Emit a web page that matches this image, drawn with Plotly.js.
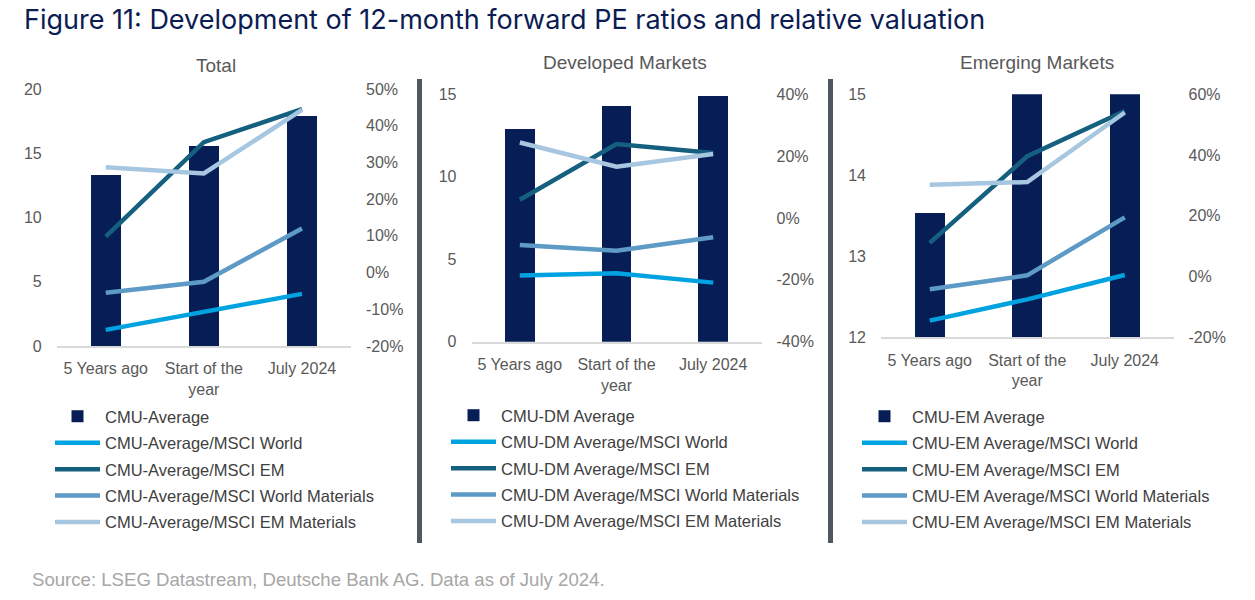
<!DOCTYPE html>
<html>
<head>
<meta charset="utf-8">
<script src="https://cdn.plot.ly/plotly-3.0.1.min.js"></script>
<style>html,body{margin:0;padding:0;background:#fff;}#chart{width:1255px;height:600px;}</style>
</head>
<body>
<div id="chart"></div>
<script>
// ---- data ----
const categories = ['5 Years ago', 'Start of the<br>year', 'July 2024'];

const totalNames = ['CMU-Average', 'CMU-Average/MSCI World', 'CMU-Average/MSCI EM', 'CMU-Average/MSCI World Materials', 'CMU-Average/MSCI EM Materials'];
const totalAvg = [13.3, 15.6, 17.9];
const totalWorld = [-0.156, -0.107, -0.058];
const totalEM = [0.098, 0.355, 0.445];
const totalWorldMat = [-0.055, -0.025, 0.12];
const totalEMMat = [0.287, 0.27, 0.443];

const dmNames = ['CMU-DM Average', 'CMU-DM Average/MSCI World', 'CMU-DM Average/MSCI EM', 'CMU-DM Average/MSCI World Materials', 'CMU-DM Average/MSCI EM Materials'];
const dmAvg = [12.9, 14.3, 14.9];
const dmWorld = [-0.186, -0.179, -0.209];
const dmEM = [0.059, 0.239, 0.21];
const dmWorldMat = [-0.087, -0.106, -0.062];
const dmEMMat = [0.244, 0.166, 0.207];

const emNames = ['CMU-EM Average', 'CMU-EM Average/MSCI World', 'CMU-EM Average/MSCI EM', 'CMU-EM Average/MSCI World Materials', 'CMU-EM Average/MSCI EM Materials'];
const emAvg = [13.54, 15.2, 15.4];
const emWorld = [-0.145, -0.075, 0.005];
const emEM = [0.111, 0.396, 0.545];
const emWorldMat = [-0.042, 0.004, 0.195];
const emEMMat = [0.302, 0.311, 0.54];

const panelTitles = ['Total', 'Developed Markets', 'Emerging Markets'];

const totalRightTicks = [-0.2, -0.1, 0, 0.1, 0.2, 0.3, 0.4, 0.5];
const totalRightLabels = ['-20%', '-10%', '0%', '10%', '20%', '30%', '40%', '50%'];
const dmRightTicks = [-0.4, -0.2, 0, 0.2, 0.4];
const dmRightLabels = ['-40%', '-20%', '0%', '20%', '40%'];
const emRightTicks = [-0.2, 0, 0.2, 0.4, 0.6];
const emRightLabels = ['-20%', '0%', '20%', '40%', '60%'];

// ---- styling ----
const W = 1255, H = 600;
const px = v => v / W;
const py = v => 1 - v / H;
const COL_BAR = '#061d55';
const COL_LINES = ['#00a3e0', '#15607f', '#5d9ac6', '#a7c6e0'];
const TXT = '#595959';
const FONT = 'Liberation Sans, Arial, sans-serif';

function panelTraces(names, avg, lines, xa, yL, yR, legendId) {
  const traces = [{
    type: 'bar', x: categories, y: avg, name: names[0],
    marker: {color: COL_BAR}, width: 0.31,
    xaxis: xa, yaxis: yL, legend: legendId, legendgroup: legendId + 'g0',
    hoverinfo: 'skip'
  }];
  lines.forEach((vals, i) => {
    traces.push({
      type: 'scatter', mode: 'lines', x: categories, y: vals, name: names[i + 1],
      line: {color: COL_LINES[i], width: 4.5},
      xaxis: xa, yaxis: yR, legend: legendId, legendgroup: legendId + 'g' + (i + 1),
      hoverinfo: 'skip'
    });
  });
  return traces;
}

const data = [].concat(
  panelTraces(totalNames, totalAvg, [totalWorld, totalEM, totalWorldMat, totalEMMat], 'x', 'y', 'y2', 'legend'),
  panelTraces(dmNames, dmAvg, [dmWorld, dmEM, dmWorldMat, dmEMMat], 'x2', 'y3', 'y4', 'legend2'),
  panelTraces(emNames, emAvg, [emWorld, emEM, emWorldMat, emEMMat], 'x3', 'y5', 'y6', 'legend3')
);

const tickFont = {family: FONT, size: 16, color: TXT};

function xAxis(domain, anchor) {
  return {
    domain: domain, anchor: anchor, type: 'category',
    showline: true, linecolor: '#d9d9d9', linewidth: 2,
    ticks: '', showgrid: false, zeroline: false, fixedrange: true,
    tickfont: tickFont, ticklabelstandoff: 7
  };
}
function yLeft(domain, anchor, range, dtick) {
  return {
    domain: domain, anchor: anchor, range: range, dtick: dtick, tick0: 0,
    showgrid: false, zeroline: false, showline: false, ticks: '',
    tickfont: tickFont, ticklabelstandoff: 14, fixedrange: true
  };
}
function yRight(overlay, anchor, range, tv, tt) {
  return {
    overlaying: overlay, anchor: anchor, side: 'right', range: range,
    tickmode: 'array', tickvals: tv, ticktext: tt,
    showgrid: false, zeroline: false, showline: false, ticks: '',
    tickfont: tickFont, ticklabelstandoff: 14, fixedrange: true
  };
}
function legendAt(x, y) {
  return {
    x: px(x), y: py(y), xanchor: 'left', yanchor: 'top',
    orientation: 'v', traceorder: 'grouped', tracegroupgap: 2,
    font: {family: FONT, size: 16.5, color: '#404040'},
    bgcolor: 'rgba(0,0,0,0)', itemwidth: 45, itemclick: false, itemdoubleclick: false
  };
}

const layout = {
  width: W, height: H,
  margin: {l: 0, r: 0, t: 0, b: 0},
  paper_bgcolor: '#ffffff', plot_bgcolor: 'rgba(0,0,0,0)',
  showlegend: true, bargap: 0,
  xaxis: xAxis([px(56.7), px(351)], 'y'),
  yaxis: yLeft([py(346), py(89)], 'x', [0, 20], 5),
  yaxis2: yRight('y', 'x', [-0.2, 0.5], totalRightTicks, totalRightLabels),
  xaxis2: xAxis([px(471.5), px(761.5)], 'y3'),
  yaxis3: yLeft([py(341.7), py(94.3)], 'x2', [0, 15], 5),
  yaxis4: yRight('y3', 'x2', [-0.4, 0.4], dmRightTicks, dmRightLabels),
  xaxis3: xAxis([px(881), px(1173.5)], 'y5'),
  yaxis5: yLeft([py(337.3), py(94.3)], 'x3', [12, 15], 1),
  yaxis6: yRight('y5', 'x3', [-0.2, 0.6], emRightTicks, emRightLabels),
  legend: legendAt(50, 399),
  legend2: legendAt(446, 398),
  legend3: legendAt(857, 399),
  shapes: [
    {type: 'rect', xref: 'paper', yref: 'paper', x0: px(417), x1: px(422), y0: py(543), y1: py(79), fillcolor: '#50575e', line: {width: 0}, layer: 'above'},
    {type: 'rect', xref: 'paper', yref: 'paper', x0: px(828), x1: px(833), y0: py(543), y1: py(79), fillcolor: '#50575e', line: {width: 0}, layer: 'above'}
  ],
  annotations: [
    {text: 'Figure 11: Development of 12-month forward PE ratios and relative valuation', xref: 'paper', yref: 'paper', x: px(22), y: py(20), xanchor: 'left', yanchor: 'middle', showarrow: false, font: {family: 'Inter, Roboto, sans-serif', size: 27, color: '#0b1c52'}},
    {text: panelTitles[0], xref: 'paper', yref: 'paper', x: px(216), y: py(65), xanchor: 'center', yanchor: 'middle', showarrow: false, font: {family: FONT, size: 19, color: TXT}},
    {text: panelTitles[1], xref: 'paper', yref: 'paper', x: px(625), y: py(62.5), xanchor: 'center', yanchor: 'middle', showarrow: false, font: {family: FONT, size: 19, color: TXT}},
    {text: panelTitles[2], xref: 'paper', yref: 'paper', x: px(1037), y: py(62.5), xanchor: 'center', yanchor: 'middle', showarrow: false, font: {family: FONT, size: 19, color: TXT}},
    {text: 'Source: LSEG Datastream, Deutsche Bank AG. Data as of July 2024.', xref: 'paper', yref: 'paper', x: px(30), y: py(579), xanchor: 'left', yanchor: 'middle', showarrow: false, font: {family: 'Liberation Sans, Arial, sans-serif', size: 18.6, color: '#a6a6a6'}}
  ]
};

Plotly.newPlot('chart', data, layout, {staticPlot: true, displayModeBar: false});
</script>
</body>
</html>
